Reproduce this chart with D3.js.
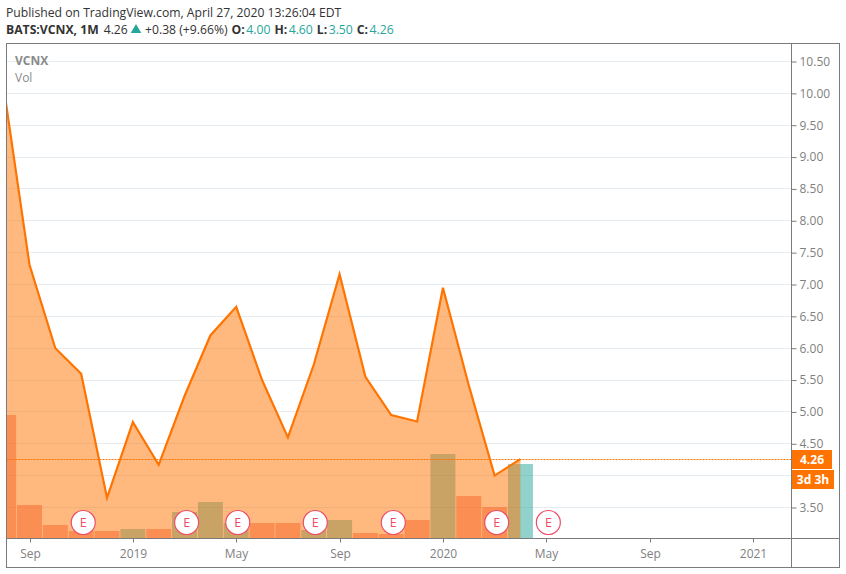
<!DOCTYPE html>
<html><head><meta charset="utf-8">
<style>html,body{margin:0;padding:0;background:#fff}svg{display:block}text{font-family:"Open Sans",sans-serif}</style>
<script src="https://cdn.jsdelivr.net/npm/d3@7/dist/d3.min.js"></script>
</head><body><svg id="c" width="846" height="574"></svg>
<script>
// month index 0 = Aug 2018
const months = ["2018-08","2018-09","2018-10","2018-11","2018-12","2019-01","2019-02","2019-03","2019-04","2019-05","2019-06","2019-07","2019-08","2019-09","2019-10","2019-11","2019-12","2020-01","2020-02","2020-03","2020-04"];
const closes = [10.1,7.31,6.0,5.6,3.65,4.84,4.17,5.25,6.2,6.65,5.5,4.6,5.74,7.16,5.55,4.95,4.85,6.95,5.42,4.0,4.26];
const volumes = [123,33,13,7,7,9,9,26,36,15,15,15,8,18,5,4,18,84,42,31,74];
const volumeUp = [0,0,0,0,0,1,0,1,1,1,0,0,1,1,0,0,0,1,0,0,1];
const gridTicks = [3.5,4,4.5,5,5.5,6,6.5,7,7.5,8,8.5,9,9.5,10,10.5];
const priceLabels = [3.5,4.5,5,5.5,6,6.5,7,7.5,8,8.5,9,9.5,10,10.5];
const timeTicks = [[1,"Sep"],[5,"2019"],[9,"May"],[13,"Sep"],[17,"2020"],[21,"May"],[25,"Sep"],[29,"2021"]];
const earnings = [3.08,7.08,9.06,12.06,15.08,19.08,21.08];
const lastClose = 4.26;
const countdown = "3d 3h";

const L=6.5,R=791.5,T=43.5,B=538.5,FR=839.5,FB=567.5;
const svg=d3.select("#c");
const x=d3.scaleLinear().domain([1,29]).range([29.5,753]);
const y=d3.scaleLinear().domain([3.5,10.5]).range([507.5,61.5]);
const v=d3.scaleLinear().domain([0,123]).range([538,415]);
const ORANGE="#ff7400";
svg.append("defs").append("clipPath").attr("id","p").append("rect").attr("x",L).attr("y",T).attr("width",R-L).attr("height",B-T);
const plot=svg.append("g").attr("clip-path","url(#p)");
// grid
plot.append("g").selectAll("line").data(gridTicks).join("line")
 .attr("x1",L).attr("x2",R).attr("y1",d=>Math.floor(y(d))+.5).attr("y2",d=>Math.floor(y(d))+.5)
 .attr("stroke","#e4ecf2").attr("stroke-width",1);
const idx=months.map((_,i)=>i);
// volume sits under the area
const bw=25;
plot.append("g").selectAll("rect").data(idx).join("rect")
 .attr("x",i=>x(i)-bw/2).attr("width",bw).attr("y",i=>v(volumes[i])).attr("height",i=>538-v(volumes[i]))
 .attr("fill",i=>volumeUp[i]?"#26a69a":"#ef5350").attr("fill-opacity",.5);
// area
plot.append("path").datum(idx).attr("fill",ORANGE).attr("fill-opacity",.5)
 .attr("d",d3.area().x(i=>x(i)).y0(B).y1(i=>y(closes[i])));
// last price line
plot.append("line").attr("x1",L).attr("x2",R).attr("y1",Math.floor(y(lastClose))+.5).attr("y2",Math.floor(y(lastClose))+.5)
 .attr("stroke",ORANGE).attr("stroke-width",1).attr("stroke-dasharray","2 1");
// line
plot.append("path").datum(idx).attr("fill","none").attr("stroke",ORANGE).attr("stroke-width",2.2).attr("stroke-linejoin","miter")
 .attr("d",d3.line().x(i=>x(i)).y(i=>y(closes[i])));
// earnings
const eg=plot.append("g").selectAll("g").data(earnings).join("g").attr("transform",d=>`translate(${x(d)},522.5)`);
eg.append("circle").attr("r",12).attr("fill","#fff").attr("stroke","#ee4d68").attr("stroke-width",1.2);
eg.append("text").attr("text-anchor","middle").attr("y",4.5).attr("font-size",12.5).attr("fill","#ee4d68").text("E");
// frame
const fr=svg.append("g").attr("fill","none").attr("stroke","#7b7b7b");
fr.append("rect").attr("x",L).attr("y",T).attr("width",FR-L).attr("height",FB-T);
fr.append("line").attr("x1",R).attr("x2",R).attr("y1",T).attr("y2",FB);
fr.append("line").attr("x1",L).attr("x2",FR).attr("y1",B).attr("y2",B);
// y axis
const yAxis=svg.append("g").attr("transform",`translate(${R},0)`).call(
 d3.axisRight(y).tickValues(priceLabels).tickSize(5).tickPadding(3).tickFormat(d3.format(".2f")));
yAxis.select(".domain").remove();
yAxis.selectAll("line").attr("stroke","#7b7b7b");
yAxis.selectAll("text").attr("fill","#7f7f7f").attr("font-size",12);
// x axis
const xg=svg.append("g").selectAll("g").data(timeTicks).join("g").attr("transform",d=>`translate(${Math.round(x(d[0]))+.5},${B})`);
xg.append("line").attr("y2",4).attr("stroke","#7b7b7b");
xg.append("text").attr("y",19).attr("text-anchor","middle").attr("font-size",12).attr("fill","#7f7f7f").text(d=>d[1]);
// price labels
const lab=svg.append("g");
lab.append("rect").attr("x",792).attr("y",450).attr("width",40).attr("height",19).attr("fill",ORANGE);
lab.append("text").attr("x",812).attr("y",464).attr("text-anchor","middle").attr("font-size",12).attr("font-weight",700).attr("fill","#fff").text(d3.format(".2f")(lastClose));
lab.append("rect").attr("x",792).attr("y",470).attr("width",42).attr("height",19).attr("fill",ORANGE);
lab.append("text").attr("x",813).attr("y",484).attr("text-anchor","middle").attr("font-size",12).attr("font-weight",700).attr("fill","#fff").text(countdown);
// legend
svg.append("text").attr("x",15).attr("y",65).attr("font-size",12).attr("font-weight",700).attr("fill","#8a8a8a").text("VCNX");
svg.append("text").attr("x",15).attr("y",82).attr("font-size",12).attr("fill","#8a8a8a").text("Vol");
// header
svg.append("text").attr("x",6).attr("y",17).attr("font-size",12.2).attr("fill","#333").text("Published on TradingView.com, April 27, 2020 13:26:04 EDT");
const head=svg.append("text").attr("x",6).attr("y",34).attr("font-size",12.2).attr("fill","#333");
head.append("tspan").attr("font-weight",700).text("BATS:VCNX, 1M");
head.append("tspan").attr("dx",5).text("4.26");
svg.append("path").attr("d",d3.symbol(d3.symbolTriangle,48)).attr("transform","translate(136,30)").attr("fill","#26a69a");
const head2=svg.append("text").attr("x",145).attr("y",34).attr("font-size",12.2).attr("fill","#333");
head2.append("tspan").text("+0.38 (+9.66%)");
[["O:","4.00"],["H:","4.60"],["L:","3.50"],["C:","4.26"]].forEach(p=>{
 head2.append("tspan").attr("dx",4).attr("font-weight",700).text(p[0]);
 head2.append("tspan").attr("fill","#26a69a").attr("dx",1.5).text(p[1]);
});
</script></body></html>
